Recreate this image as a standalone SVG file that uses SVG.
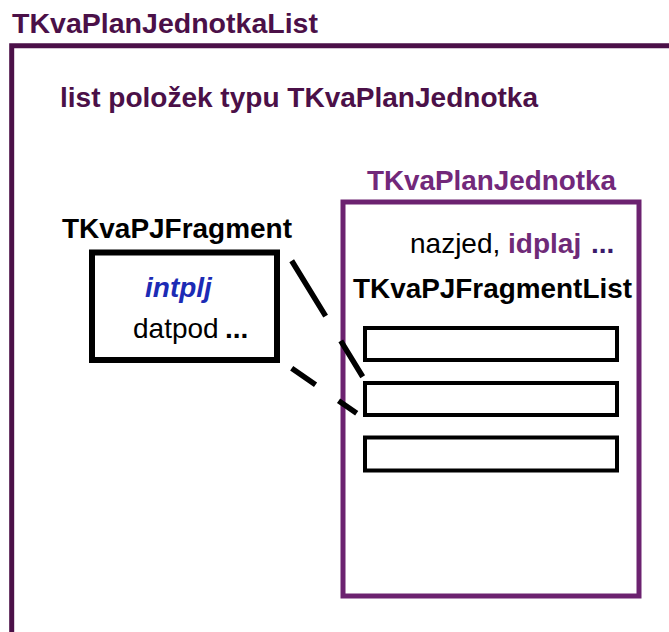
<svg xmlns="http://www.w3.org/2000/svg" width="669" height="632" viewBox="0 0 669 632">
  <style>
    text { font-family: "Liberation Sans", Arial, sans-serif; font-size: 28px; }
    .b { font-weight: bold; }
    .dark { fill: #4b1048; }
    .purple { fill: #72287a; }
    .blk { fill: #000; }
    .slot { fill: #fff; stroke: #000; stroke-width: 4; }
    .conn { fill: none; stroke: #000; stroke-width: 5.5; stroke-linecap: butt; }
  </style>
  <rect width="669" height="632" fill="#fff"/>

  <!-- outer list container -->
  <g id="list">
    <text class="b dark" x="12" y="33" textLength="306" lengthAdjust="spacingAndGlyphs">TKvaPlanJednotkaList</text>
    <path d="M11.7,640 V45.8 H680" fill="none" stroke="#4b1048" stroke-width="5"/>
    <text class="b dark" x="60" y="107" textLength="478" lengthAdjust="spacingAndGlyphs">list položek typu TKvaPlanJednotka</text>
  </g>

  <!-- plan unit item -->
  <g id="planJednotka">
    <text class="b purple" x="367" y="190" textLength="249" lengthAdjust="spacingAndGlyphs">TKvaPlanJednotka</text>
    <rect x="343" y="202" width="296" height="394" fill="none" stroke="#6c2270" stroke-width="5"/>
    <text x="410" y="253"><tspan class="blk">nazjed, </tspan><tspan class="b" fill="#6f2a77">idplaj</tspan></text>
    <text class="b" x="591" y="253" fill="#3a1a6a">...</text>
    <text class="b blk" x="353" y="298" textLength="279" lengthAdjust="spacingAndGlyphs">TKvaPJFragmentList</text>
  </g>

  <!-- fragment list slots -->
  <g id="slot1"><rect class="slot" x="365" y="328" width="252" height="32"/></g>
  <g id="slot2"><rect class="slot" x="365" y="383" width="252" height="32"/></g>
  <g id="slot3"><rect class="slot" x="365" y="437.5" width="252" height="33"/></g>

  <!-- fragment -->
  <g id="fragment">
    <text class="b blk" x="62" y="238" textLength="230" lengthAdjust="spacingAndGlyphs">TKvaPJFragment</text>
    <rect x="92" y="252.5" width="185" height="107.5" fill="#fff" stroke="#000" stroke-width="6"/>
    <text class="b" x="145" y="297" fill="#1c2bb5" font-style="italic">intplj</text>
    <text class="blk" x="133" y="338">datpod</text>
    <text class="b blk" x="225" y="338">...</text>
  </g>

  <!-- dashed connectors from the fragment to slot 2 -->
  <g id="connectors">
    <path class="conn" d="M291.7,260.7 L362.7,376.7" stroke-dasharray="65 29"/>
    <path class="conn" d="M291.7,368.3 L356.7,413.3" stroke-dasharray="29 28"/>
  </g>
</svg>
